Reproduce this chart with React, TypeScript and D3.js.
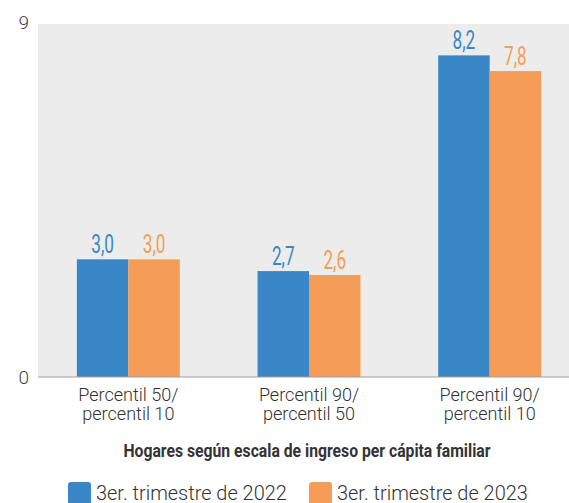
import React from "react";
import { scaleBand, scaleLinear } from "d3";

// categories (two-line labels) and series
const categories = ["p50p10", "p90p50", "p90p10"];
const categoryLines = [
  ["Percentil 50/", "percentil 10"],
  ["Percentil 90/", "percentil 50"],
  ["Percentil 90/", "percentil 10"],
];
const series2022 = [3.0, 2.7, 8.2];
const series2023 = [3.0, 2.6, 7.8];
const seriesNames = ["3er. trimestre de 2022", "3er. trimestre de 2023"];
const seriesColors = ["#3a87c8", "#f59d56"];
const yTicks = [0, 9];
const axisTitle = "Hogares según escala de ingreso per cápita familiar";

const W = 569;
const H = 503;
const plot = { left: 38, right: 569, top: 24, bottom: 377 };
const FONT = "Roboto, 'Liberation Sans', sans-serif";

const fmt = (v: number) => v.toFixed(1).replace(".", ",");

// horizontally squeezed text (no condensed fonts installed)
function Squeezed({ x, y, sx, children, ...rest }: any) {
  return (
    <text transform={`translate(${x},${y}) scale(${sx},1)`} {...rest}>
      {children}
    </text>
  );
}

export default function App() {
  const x = scaleBand<string>()
    .domain(categories)
    .range([plot.left, 580])
    .paddingInner(0.43)
    .paddingOuter(0.215);
  const inner = scaleBand<number>()
    .domain([0, 1])
    .range([0, x.bandwidth()]);
  const y = scaleLinear().domain([0, 9]).range([plot.bottom, plot.top]);
  const seriesValues = [series2022, series2023];

  return (
    <svg width={W} height={H} style={{ position: "absolute", left: 0, top: 0 }}>
      <rect
        x={plot.left}
        y={plot.top}
        width={plot.right - plot.left}
        height={plot.bottom - plot.top}
        fill="#ececec"
      />
      {yTicks.map((t) => (
        <text
          key={t}
          x={29}
          y={t === 9 ? y(t) - 2 : y(t)}
          dy="0.36em"
          textAnchor="end"
          fontFamily={FONT}
          fontWeight={300}
          fontSize={19}
          fill="#444"
        >
          {t}
        </text>
      ))}
      {seriesValues.map((vals, si) =>
        categories.map((c, i) => {
          const bx = (x(c) ?? 0) + (inner(si) ?? 0);
          const bw = inner.bandwidth();
          return (
            <g key={`${si}-${c}`}>
              <rect
                x={bx}
                y={y(vals[i])}
                width={bw}
                height={y(0) - y(vals[i])}
                fill={seriesColors[si]}
              />
              <Squeezed
                x={bx + bw / 2}
                y={y(vals[i]) - 6}
                sx={0.66}
                textAnchor="middle"
                fontFamily={FONT}
                fontSize={26}
                fill={seriesColors[si]}
              >
                {fmt(vals[i])}
              </Squeezed>
            </g>
          );
        })
      )}
      <line
        x1={plot.left}
        x2={plot.right}
        y1={plot.bottom}
        y2={plot.bottom}
        stroke="#a0a0a0"
        strokeWidth={1.2}
      />
      {categories.map((c, i) =>
        categoryLines[i].map((line, li) => (
          <Squeezed
            key={`${c}-${li}`}
            x={(x(c) ?? 0) + x.bandwidth() / 2}
            y={401 + li * 19}
            sx={0.95}
            textAnchor="middle"
            fontFamily={FONT}
            fontWeight={300}
            fontSize={19}
            fill="#333"
          >
            {line}
          </Squeezed>
        ))
      )}
      <Squeezed
        x={307}
        y={457}
        sx={0.9}
        textAnchor="middle"
        fontFamily={FONT}
        fontWeight="bold"
        fontSize={17.5}
        fill="#333"
      >
        {axisTitle}
      </Squeezed>
      {seriesNames.map((name, si) => {
        const lx = si === 0 ? 68 : 309;
        return (
          <g key={name}>
            <rect x={lx} y={482} width={23} height={23} rx={3} fill={seriesColors[si]} />
            <Squeezed
              x={lx + 28}
              y={500}
              sx={0.95}
              fontFamily={FONT}
              fontWeight={300}
              fontSize={21}
              fill="#333"
            >
              {name}
            </Squeezed>
          </g>
        );
      })}
    </svg>
  );
}
